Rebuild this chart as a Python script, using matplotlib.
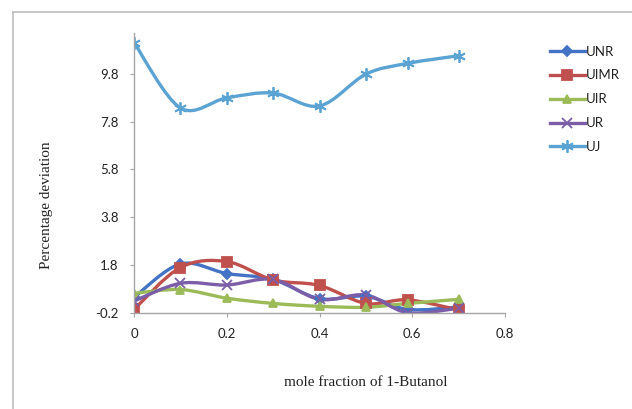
"""Percentage deviation of the ultrasonic velocity models vs. mole fraction of 1-Butanol."""

import matplotlib

matplotlib.use("Agg")
import matplotlib.pyplot as plt
from matplotlib.lines import Line2D
from matplotlib.patches import PathPatch
from matplotlib.path import Path

x_frac = [0, 0.1, 0.2, 0.3, 0.4, 0.5, 0.59, 0.7]
unr = [0.45, 1.85, 1.45, 1.2, 0.4, 0.5, -0.05, 0.05]
uimr = [-0.05, 1.7, 1.95, 1.18, 0.95, 0.2, 0.35, -0.07]
uir = [0.62, 0.78, 0.42, 0.2, 0.08, 0.04, 0.2, 0.37]
ur = [0.3, 1.04, 0.97, 1.2, 0.37, 0.55, -0.19, 0.0]
uj = [11.1, 8.37, 8.79, 8.99, 8.45, 9.78, 10.23, 10.55]

series_names = ["UNR", "UIMR", "UIR", "UR", "UJ"]
y_ticks = [-0.2, 1.8, 3.8, 5.8, 7.8, 9.8]
x_ticks = [0, 0.2, 0.4, 0.6, 0.8]

colors = ["#4472c4", "#c0504d", "#9bbb59", "#7b5ea7", "#5ba3d3"]
markers = ["D", "s", "^", "x", (6, 2, 0)]
msizes = [5, 7, 6, 7, 9]

TICK_FONT = "Lato"
SERIF = "Liberation Serif"


def smooth_path(xs, ys):
    # Excel-like smoothed line: cubic Bezier segments through every point
    verts = [(xs[0], ys[0])]
    codes = [Path.MOVETO]
    n = len(xs)
    for i in range(n - 1):
        x0, y0 = (xs[i - 1], ys[i - 1]) if i > 0 else (xs[i], ys[i])
        x1, y1 = xs[i], ys[i]
        x2, y2 = xs[i + 1], ys[i + 1]
        x3, y3 = (xs[i + 2], ys[i + 2]) if i + 2 < n else (x2, y2)
        c1 = (x1 + (x2 - x0) / 6, y1 + (y2 - y0) / 6)
        c2 = (x2 - (x3 - x1) / 6, y2 - (y3 - y1) / 6)
        verts += [c1, c2, (x2, y2)]
        codes += [Path.CURVE4] * 3
    return Path(verts, codes)


fig = plt.figure(figsize=(6.32, 4.09), dpi=100)
ax = fig.add_axes([134 / 632, 96 / 409, 371 / 632, 280 / 409])

handles = []
for name, ys, color, marker, ms in zip(series_names, [unr, uimr, uir, ur, uj], colors, markers, msizes):
    patch = PathPatch(smooth_path(x_frac, ys), fill=False, edgecolor=color, lw=2.4,
                      capstyle="round", joinstyle="round")
    ax.add_patch(patch)
    ax.plot(x_frac, ys, linestyle="none", marker=marker, markersize=ms, color=color,
            markeredgecolor=color, markeredgewidth=1.3)
    handles.append(Line2D([], [], color=color, lw=2.4, marker=marker, markersize=ms,
                          markeredgewidth=1.3, label=name))

ax.set_xlim(0, 0.8)
ax.set_ylim(-0.2, 11.5)
ax.set_xticks(x_ticks)
ax.set_xticklabels(["0", "0.2", "0.4", "0.6", "0.8"])
ax.set_yticks(y_ticks)
ax.set_yticklabels(["-0.2", "1.8", "3.8", "5.8", "7.8", "9.8"])
for side in ("top", "right"):
    ax.spines[side].set_visible(False)
for side in ("left", "bottom"):
    ax.spines[side].set_color("#a6a6a6")
    ax.spines[side].set_linewidth(1.0)
ax.tick_params(axis="both", colors="#a6a6a6", length=3, width=0.8, labelcolor="#222222",
               labelsize=9.5, pad=8)
for lab in ax.get_xticklabels() + ax.get_yticklabels():
    lab.set_fontfamily(TICK_FONT)

fig.text(47 / 632, 1 - 205 / 409, "Percentage deviation", rotation=90, ha="center",
         va="center", fontsize=11, family=SERIF, color="#222222")
fig.text(366 / 632, 1 - 382 / 409, "mole fraction of 1-Butanol", ha="center",
         va="center", fontsize=11, family=SERIF, color="#222222")

leg = fig.legend(handles=handles, loc="upper left", bbox_to_anchor=(543 / 632, 1 - 39 / 409),
                 frameon=False, borderpad=0, handlelength=2.7, handletextpad=0.05,
                 labelspacing=0.9, prop={"family": TICK_FONT, "size": 9.5})
for txt in leg.get_texts():
    txt.set_color("#222222")

# outer chart-area frame (left and top edges visible in the crop)
fig.add_artist(Line2D([13 / 632, 13 / 632], [0, 1 - 12 / 409], color="#bfbfbf", lw=1.2))
fig.add_artist(Line2D([13 / 632, 1], [1 - 12 / 409, 1 - 12 / 409], color="#bfbfbf", lw=1.2))

fig.savefig("out.png", dpi=100)
plt.close(fig)
